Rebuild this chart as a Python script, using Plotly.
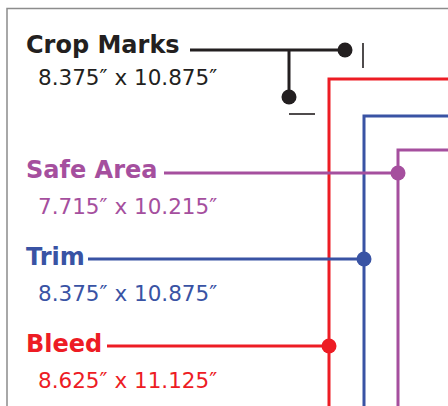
import plotly.graph_objects as go

# ---- data ----
labels = ["Crop Marks", "Safe Area", "Trim", "Bleed"]
sizes = ["8.375″ x 10.875″", "7.715″ x 10.215″", "8.375″ x 10.875″", "8.625″ x 11.125″"]
colors = ["#231F20", "#A54F9E", "#3953A4", "#ED1C24"]

# layout positions (pixel space of the 448x406 canvas)
label_y = [45, 170, 257, 344]
size_y = [77, 206, 293, 380]
leader_y = [50, 173, 259, 346]
leader_x0 = [190, 164, 88, 107]
leader_x1 = [345, 398, 364, 329]

# rectangle corners: bleed, trim, safe
rect_names = ["Bleed", "Trim", "Safe Area"]
rect_x = [329, 364, 398]
rect_y = [79, 116, 150]
rect_colors = ["#ED1C24", "#3953A4", "#A54F9E"]

W, H = 448, 406

fig = go.Figure()

# page border
fig.add_trace(go.Scatter(x=[7, 7, 470], y=[430, 8.5, 8.5], mode="lines",
                         line=dict(color="#8C8C8C", width=1.5), hoverinfo="skip"))

# rectangles
for rx, ry, c in zip(rect_x, rect_y, rect_colors):
    fig.add_trace(go.Scatter(x=[rx, rx, 470], y=[430, ry, ry], mode="lines",
                             line=dict(color=c, width=3), hoverinfo="skip"))

# crop marks short lines
fig.add_trace(go.Scatter(x=[363, 363], y=[43, 68], mode="lines",
                         line=dict(color="#231F20", width=1.6), hoverinfo="skip"))
fig.add_trace(go.Scatter(x=[289, 315], y=[114, 114], mode="lines",
                         line=dict(color="#231F20", width=1.6), hoverinfo="skip"))

# leaders
for x0, x1, y, c in zip(leader_x0, leader_x1, leader_y, colors):
    fig.add_trace(go.Scatter(x=[x0, x1], y=[y, y], mode="lines",
                             line=dict(color=c, width=3), hoverinfo="skip"))
# crop branch
fig.add_trace(go.Scatter(x=[289, 289], y=[leader_y[0], 97], mode="lines",
                         line=dict(color="#231F20", width=3), hoverinfo="skip"))

# dots
dot_x = leader_x1 + [289]
dot_y = leader_y + [97]
dot_c = colors + ["#231F20"]
fig.add_trace(go.Scatter(x=dot_x, y=dot_y, mode="markers",
                         marker=dict(color=dot_c, size=15, line=dict(width=0)),
                         hoverinfo="skip"))

# text
for lab, sz, ly, sy, c in zip(labels, sizes, label_y, size_y, colors):
    fig.add_annotation(x=24, y=ly, xref="x", yref="y", text=lab, showarrow=False,
                       xanchor="left", yanchor="middle",
                       font=dict(family="DejaVu Sans", size=24, color=c, weight="bold"))
    fig.add_annotation(x=36, y=sy, xref="x", yref="y", text=sz, showarrow=False,
                       xanchor="left", yanchor="middle",
                       font=dict(family="DejaVu Sans", size=21.5, color=c))

fig.update_layout(
    width=W, height=H,
    margin=dict(l=0, r=0, t=0, b=0),
    paper_bgcolor="white", plot_bgcolor="white",
    showlegend=False,
    xaxis=dict(range=[0, W], visible=False, fixedrange=True),
    yaxis=dict(range=[H, 0], visible=False, fixedrange=True),
)
fig.write_html("out.html", config={"displayModeBar": False},
               post_script="document.body.style.margin='0';")
